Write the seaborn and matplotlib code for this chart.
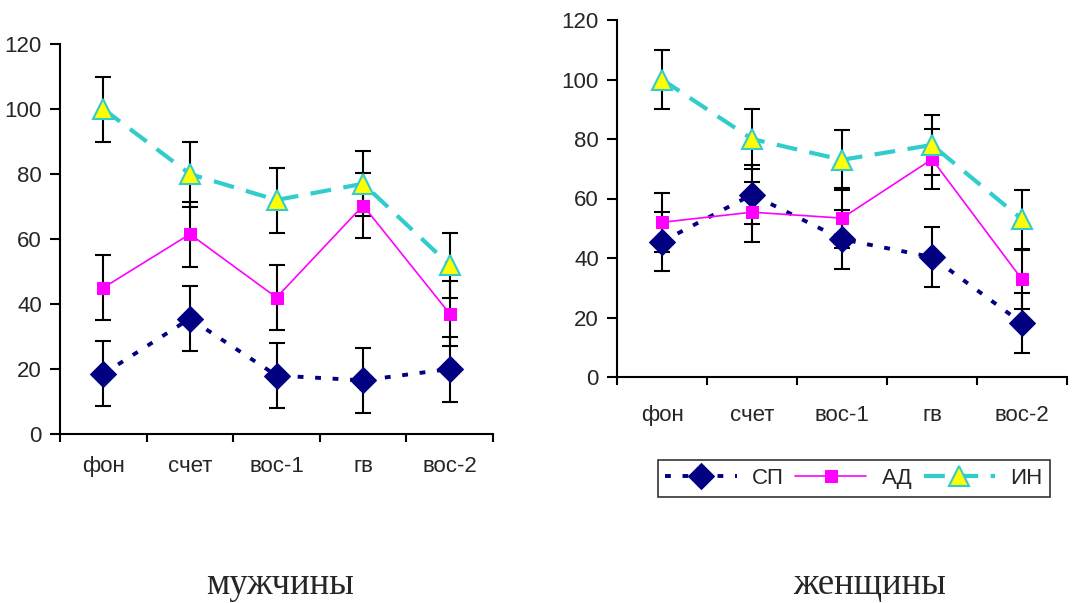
import numpy as np
import pandas as pd
import matplotlib
matplotlib.use("Agg")
import matplotlib.pyplot as plt
import seaborn as sns

categories = ["фон", "счет", "вос-1", "гв", "вос-2"]
series_names = ["СП", "АД", "ИН"]

# мужчины
men_sp = [18.5, 35.5, 18, 16.5, 20]
men_ad = [45, 61.5, 42, 70.3, 37]
men_in = [100, 80, 72, 77, 52]
men_sp_err = [10, 10, 10, 10, 10]
men_ad_err = [10, 10, 10, 10, 10]
men_in_err = [10, 10, 10, 10, 10]

# женщины
women_sp = [45.5, 61.3, 46.3, 40.3, 18.1]
women_ad = [52, 55.4, 53.4, 73.2, 32.8]
women_in = [100, 80, 73, 78, 53]
women_sp_err = [10, 10, 10, 10, 10]
women_ad_err = [10, 10, 10, 10, 10]
women_in_err = [10, 10, 10, 10, 10]

titles = ["мужчины", "женщины"]
y_ticks = [0, 20, 40, 60, 80, 100, 120]

sns.set_theme(style="white")
plt.rcParams['font.family'] = ['Liberation Sans', 'DejaVu Sans']

fig = plt.figure(figsize=(10.89, 6.03), dpi=100)
ax_l = fig.add_axes([60/1089, 1-434/603, (493-60)/1089, (434-44)/603])
ax_r = fig.add_axes([617/1089, 1-377/603, (1067-617)/1089, (377-20)/603])

styles = {
    "СП": dict(color="#000080", marker="D", markersize=13, linewidth=2.8,
               linestyle=(0, (1.5, 3.0)), markerfacecolor="#000080",
               markeredgecolor="#000080", dash_capstyle="butt"),
    "АД": dict(color="#FF00FF", marker="s", markersize=8.5, linewidth=1.2,
               linestyle="-", markerfacecolor="#FF00FF",
               markeredgecolor="#FF00FF"),
    "ИН": dict(color="#33CCCC", marker="^", markersize=15, linewidth=3,
               linestyle=(0, (5, 3)), markerfacecolor="#FFFF00",
               markeredgecolor="#33CCCC", markeredgewidth=1.5,
               dash_capstyle="butt"),
}

xpos = np.arange(len(categories))

def draw(ax, data, errs, xpad):
    for name in series_names:
        ax.errorbar(xpos, data[name], yerr=errs[name], fmt="none",
                    ecolor="black", elinewidth=1.5, capsize=5.5,
                    capthick=1.5, zorder=2)
    for name in series_names:
        df = pd.DataFrame({"x": xpos, "y": data[name]})
        sns.lineplot(data=df, x="x", y="y", ax=ax, sort=False, label=name,
                     zorder=3, **styles[name])
    ax.set_xlim(-0.5, len(categories) - 0.5)
    ax.set_ylim(0, 120)
    ax.set_yticks(y_ticks)
    ax.set_yticklabels([str(t) for t in y_ticks], fontsize=16)
    ax.set_xticks(xpos)
    ax.set_xticklabels(categories, fontsize=16)
    ax.set_xticks(np.arange(-0.5, len(categories), 1), minor=True)
    ax.tick_params(axis="x", which="major", length=0, pad=xpad)
    ax.tick_params(axis="x", which="minor", length=6, width=1.5,
                   direction="out", bottom=True, color="black")
    ax.tick_params(axis="y", which="major", length=7, width=1.5,
                   direction="out", left=True, color="black", pad=6)
    for s in ["top", "right"]:
        ax.spines[s].set_visible(False)
    for s in ["left", "bottom"]:
        ax.spines[s].set_color("black")
        ax.spines[s].set_linewidth(1.5)
    ax.set_xlabel("")
    ax.set_ylabel("")
    ax.grid(False)
    leg = ax.get_legend()
    if leg is not None:
        leg.remove()

draw(ax_l, {"СП": men_sp, "АД": men_ad, "ИН": men_in},
     {"СП": men_sp_err, "АД": men_ad_err, "ИН": men_in_err}, 16)
draw(ax_r, {"СП": women_sp, "АД": women_ad, "ИН": women_in},
     {"СП": women_sp_err, "АД": women_ad_err, "ИН": women_in_err}, 20)

handles, labels = ax_r.get_legend_handles_labels()
fig.legend(handles, labels, loc="center",
           bbox_to_anchor=((661+1047)/2/1089, 1-478.5/603),
           ncol=3, frameon=True, fancybox=False, edgecolor="black",
           fontsize=16, handlelength=3.2, handletextpad=0.7,
           columnspacing=0.5, borderpad=0.35)
lg = fig.legends[0]
lg.get_frame().set_linewidth(1.2)

fig.text(280/1089, 1-585/603, titles[0], ha="center", va="center",
         fontsize=26.5, family=["Liberation Serif", "DejaVu Serif"])
fig.text(870/1089, 1-585/603, titles[1], ha="center", va="center",
         fontsize=26.5, family=["Liberation Serif", "DejaVu Serif"])

fig.savefig("out.png", dpi=100, facecolor="white")
